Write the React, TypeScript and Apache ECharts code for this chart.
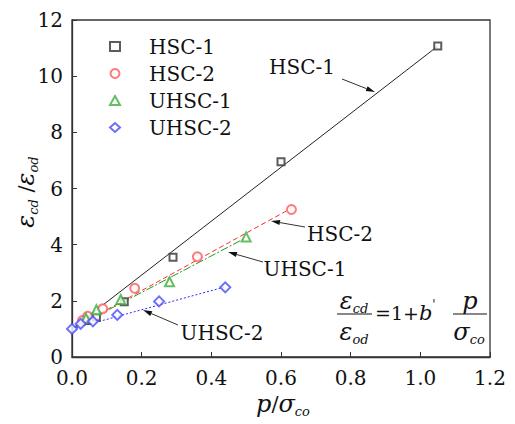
import React, { useEffect, useRef } from "react";
import * as echarts from "echarts";

const FONT = "DejaVu Serif";

const xTicks = [0, 0.2, 0.4, 0.6, 0.8, 1.0, 1.2];
const yTicks = [0, 2, 4, 6, 8, 10, 12];
const seriesNames = ["HSC-1", "HSC-2", "UHSC-1", "UHSC-2"];

const hsc1Points = [[0.04, 1.3], [0.07, 1.42], [0.15, 1.97], [0.29, 3.55], [0.6, 6.95], [1.05, 11.07]];
const hsc2Points = [[0.03, 1.3], [0.045, 1.45], [0.088, 1.72], [0.18, 2.45], [0.36, 3.57], [0.63, 5.25]];
const uhsc1Points = [[0.04, 1.38], [0.07, 1.68], [0.14, 2.05], [0.28, 2.68], [0.5, 4.27]];
const uhsc2Points = [[0.0, 1.0], [0.025, 1.18], [0.06, 1.27], [0.13, 1.5], [0.25, 1.98], [0.44, 2.48]];

const hsc1Fit = [[0, 1], [1.05, 11.07]];
const hsc2Fit = [[0, 1], [0.63, 5.3]];
const uhsc1Fit = [[0, 1], [0.5, 4.25]];
const uhsc2Fit = [[0, 1], [0.44, 2.5]];

const pointSets = [hsc1Points, hsc2Points, uhsc1Points, uhsc2Points];
const fitSets = [hsc1Fit, hsc2Fit, uhsc1Fit, uhsc2Fit];
const symbols = ["emptyRect", "emptyCircle", "emptyTriangle", "emptyDiamond"];
const symbolSizes = [7, 9, 9, 10];
const markerColors = ["#333333", "#ff5a5a", "#3fae3f", "#4a4aff"];
const lineColors = ["#222222", "#ff2a2a", "#1f9a1f", "#2a2aff"];
const lineTypes: any[] = ["solid", [5, 3], [8, 2, 2, 2], [2, 2]];

function arrow(x1: number, y1: number, x2: number, y2: number) {
  const dx = x2 - x1;
  const dy = y2 - y1;
  const len = Math.sqrt(dx * dx + dy * dy);
  const ux = dx / len;
  const uy = dy / len;
  const hl = 9;
  const hw = 2.6;
  const bx = x2 - ux * hl;
  const by = y2 - uy * hl;
  return [
    { type: "line", shape: { x1, y1, x2: bx, y2: by }, style: { stroke: "#333", lineWidth: 1 } },
    {
      type: "polygon",
      shape: { points: [[x2, y2], [bx - uy * hw, by + ux * hw], [bx + uy * hw, by - ux * hw]] },
      style: { fill: "#111" },
    },
  ];
}

const epsRich = {
  e: { fontSize: 24, fontStyle: "italic", fontFamily: FONT, lineHeight: 28, color: "#111" },
  s: { fontSize: 13, fontStyle: "italic", fontFamily: FONT, lineHeight: 13, verticalAlign: "bottom", color: "#111" },
  n: { fontSize: 21, fontFamily: FONT, lineHeight: 28, color: "#111" },
  m: { fontSize: 19, fontFamily: FONT, lineHeight: 28, color: "#111" },
  i: { fontSize: 24, fontStyle: "italic", fontFamily: FONT, lineHeight: 28, color: "#111" },
  b: { fontSize: 21, fontStyle: "italic", fontFamily: FONT, lineHeight: 28, color: "#111" },
  p: { fontSize: 12, fontFamily: FONT, lineHeight: 28, verticalAlign: "top", color: "#111" },
};

function label(text: string, x: number, y: number) {
  return {
    type: "text",
    x,
    y,
    style: { text, fontSize: 20, fontFamily: FONT, fill: "#111", align: "center", verticalAlign: "middle" },
  };
}

function richText(text: string, x: number, y: number, align = "center", rotation = 0) {
  return {
    type: "text",
    x,
    y,
    rotation,
    style: { text, rich: epsRich, align, verticalAlign: "middle", fill: "#111" },
  };
}

export default function App() {
  const ref = useRef<HTMLDivElement>(null);
  useEffect(() => {
    if (!ref.current) return;
    document.body.style.margin = "0";
    const chart = echarts.init(ref.current, null, { renderer: "svg" });
    const scatterSeries = seriesNames.map((name, k) => ({
      name,
      type: "scatter",
      data: pointSets[k],
      symbol: symbols[k],
      symbolSize: symbolSizes[k],
      itemStyle: { color: markerColors[k], borderWidth: 1 },
      z: 3,
    }));
    const lineSeries = seriesNames.map((name, k) => ({
      name: name + " fit",
      type: "line",
      data: fitSets[k],
      showSymbol: false,
      symbol: "none",
      lineStyle: { color: lineColors[k], width: 1, type: lineTypes[k] },
      z: 2,
    }));
    const graphics: any[] = [
      label("HSC-1", 302, 67),
      ...arrow(342, 79, 375, 92),
      label("HSC-2", 340, 234),
      ...arrow(305, 227, 271, 221),
      label("UHSC-1", 305, 269),
      ...arrow(263, 262, 228, 252),
      label("UHSC-2", 222, 333),
      ...arrow(178, 325, 143, 310),
      richText("{e|ε}{s|cd}", 354, 301),
      { type: "line", shape: { x1: 337, y1: 314, x2: 372, y2: 314 }, style: { stroke: "#111", lineWidth: 1 } },
      richText("{e|ε}{s|od}", 354, 332),
      richText("{m|=1+}{b|b}{p|'}", 375, 313, "left"),
      richText("{i|p}", 470, 301),
      { type: "line", shape: { x1: 453, y1: 314, x2: 487, y2: 314 }, style: { stroke: "#111", lineWidth: 1 } },
      richText("{e|σ}{s|co}", 469, 332),
      richText("{i|p}{n|/}{e|σ}{s|co}", 283, 404),
      richText("{e|ε}{s|cd}{n| /}{e|ε}{s|od}", 26, 192, "center", Math.PI / 2),
    ];
    chart.setOption({
      animation: false,
      backgroundColor: "#fff",
      grid: { left: 72, right: 25, top: 20, bottom: 67, show: true, borderColor: "#333", borderWidth: 1.3 },
      legend: {
        data: seriesNames,
        orient: "vertical",
        left: 104,
        top: 30,
        itemWidth: 10,
        itemHeight: 9,
        itemGap: 4,
        textStyle: { fontSize: 20, fontFamily: FONT, color: "#111", lineHeight: 23, padding: [0, 0, 0, 24] },
      },
      xAxis: {
        type: "value",
        min: xTicks[0],
        max: xTicks[xTicks.length - 1],
        interval: 0.2,
        axisLine: { show: true, lineStyle: { color: "#333", width: 1.3 } },
        axisTick: { show: true, inside: true, length: 5, lineStyle: { color: "#333" } },
        splitLine: { show: false },
        axisLabel: {
          formatter: (v: number) => v.toFixed(1),
          fontSize: 20,
          fontFamily: FONT,
          color: "#111",
          margin: 11,
        },
      },
      yAxis: {
        type: "value",
        min: yTicks[0],
        max: yTicks[yTicks.length - 1],
        interval: 2,
        axisLine: { show: true, lineStyle: { color: "#333", width: 1.3 } },
        axisTick: { show: true, inside: true, length: 5, lineStyle: { color: "#333" } },
        splitLine: { show: false },
        axisLabel: { fontSize: 20, fontFamily: FONT, color: "#111", margin: 9 },
      },
      series: [...lineSeries, ...scatterSeries],
      graphic: graphics,
    });
    return () => chart.dispose();
  }, []);
  return <div ref={ref} style={{ width: 515, height: 424 }} />;
}
